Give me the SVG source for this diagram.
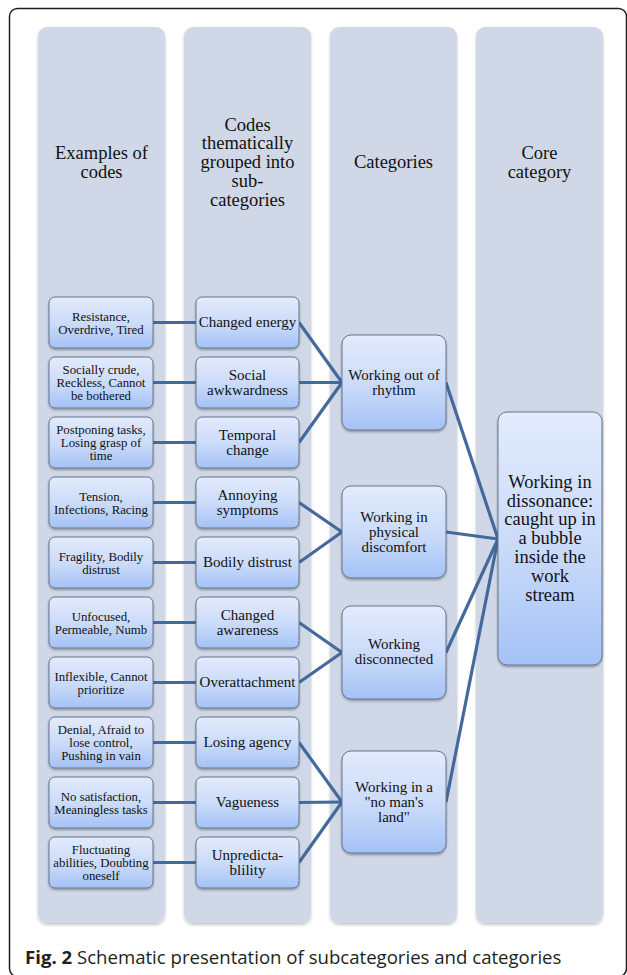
<svg xmlns="http://www.w3.org/2000/svg" width="627" height="975" viewBox="0 0 627 975">
  <defs>
    <linearGradient id="boxFill" x1="0" y1="0" x2="0" y2="1">
      <stop offset="0" stop-color="#e3ebfc"/>
      <stop offset="0.55" stop-color="#c9daf9"/>
      <stop offset="1" stop-color="#a4c2f6"/>
    </linearGradient>
    <filter id="boxShadow" x="-10%" y="-10%" width="120%" height="130%">
      <feDropShadow dx="0" dy="1.5" stdDeviation="1" flood-color="#000" flood-opacity="0.35"/>
    </filter>
    <filter id="colShadow" x="-10%" y="-5%" width="120%" height="110%">
      <feDropShadow dx="0" dy="2" stdDeviation="1.5" flood-color="#000" flood-opacity="0.22"/>
    </filter>
    <style>
      .frame { fill: #ffffff; stroke: #1e1e1e; stroke-width: 1.5; }
      .col { fill: #d0d8e7; filter: url(#colShadow); }
      .box { fill: url(#boxFill); stroke: #66768e; stroke-width: 1; filter: url(#boxShadow); }
      .link { stroke: #44699c; stroke-width: 3.2; fill: none; stroke-linecap: butt; }
      text { font-family: "Liberation Serif", "Times New Roman", serif; fill: #111; text-anchor: middle; }
      .hdr { font-size: 18.5px; }
      .c1 { font-size: 12.8px; }
      .c2 { font-size: 15px; }
      .c3 { font-size: 15px; }
      .core { font-size: 18.5px; }
      .cap { font-family: "Open Sans", "Noto Sans", sans-serif; font-size: 18.6px; fill: #231f20; text-anchor: start; }
      .capb { font-weight: bold; }
    </style>
  </defs>

  <!-- page frame -->
  <rect class="frame" x="9.5" y="8.5" width="617" height="968" rx="8"/>

  <!-- column backgrounds with headers -->
  <g id="column-codes">
    <rect class="col" x="38" y="27" width="127" height="896" rx="9"/>
    <text class="hdr" x="101.5"><tspan x="101.5" y="158.5">Examples of</tspan><tspan x="101.5" y="177.5">codes</tspan></text>
  </g>
  <g id="column-subcategories">
    <rect class="col" x="184" y="27" width="127" height="896" rx="9"/>
    <text class="hdr" x="247.5"><tspan x="247.5" y="130.5">Codes</tspan><tspan x="247.5" y="149">thematically</tspan><tspan x="247.5" y="167.5">grouped into</tspan><tspan x="247.5" y="186.5">sub-</tspan><tspan x="247.5" y="205.5">categories</tspan></text>
  </g>
  <g id="column-categories">
    <rect class="col" x="330" y="27" width="127" height="896" rx="9"/>
    <text class="hdr" x="393.5" y="167.5">Categories</text>
  </g>
  <g id="column-core">
    <rect class="col" x="476" y="27" width="127" height="896" rx="9"/>
    <text class="hdr" x="539.5"><tspan x="539.5" y="158.5">Core</tspan><tspan x="539.5" y="177.5">category</tspan></text>
  </g>

  <!-- connectors -->
  <g id="connectors">
    <!-- codes to subcategories -->
    <line class="link" x1="153" y1="322.5" x2="196" y2="322.5"/>
    <line class="link" x1="153" y1="382.5" x2="196" y2="382.5"/>
    <line class="link" x1="153" y1="442.5" x2="196" y2="442.5"/>
    <line class="link" x1="153" y1="502.5" x2="196" y2="502.5"/>
    <line class="link" x1="153" y1="562.5" x2="196" y2="562.5"/>
    <line class="link" x1="153" y1="622.5" x2="196" y2="622.5"/>
    <line class="link" x1="153" y1="682.5" x2="196" y2="682.5"/>
    <line class="link" x1="153" y1="742.5" x2="196" y2="742.5"/>
    <line class="link" x1="153" y1="802.5" x2="196" y2="802.5"/>
    <line class="link" x1="153" y1="862.5" x2="196" y2="862.5"/>
    <!-- subcategories to categories -->
    <line class="link" x1="299" y1="322.5" x2="342" y2="382.5"/>
    <line class="link" x1="299" y1="382.5" x2="342" y2="382.5"/>
    <line class="link" x1="299" y1="442.5" x2="342" y2="382.5"/>
    <line class="link" x1="299" y1="502.5" x2="342" y2="532"/>
    <line class="link" x1="299" y1="562.5" x2="342" y2="532"/>
    <line class="link" x1="299" y1="622.5" x2="342" y2="652.5"/>
    <line class="link" x1="299" y1="682.5" x2="342" y2="652.5"/>
    <line class="link" x1="299" y1="742.5" x2="342" y2="802"/>
    <line class="link" x1="299" y1="802.5" x2="342" y2="802"/>
    <line class="link" x1="299" y1="862.5" x2="342" y2="802"/>
    <!-- categories to core category -->
    <line class="link" x1="446" y1="382.5" x2="498" y2="539"/>
    <line class="link" x1="446" y1="532" x2="498" y2="539"/>
    <line class="link" x1="446" y1="652.5" x2="498" y2="539"/>
    <line class="link" x1="446" y1="802" x2="498" y2="539"/>
  </g>

  <!-- example codes -->
  <g id="code-1"><rect class="box" x="49" y="297" width="104" height="51" rx="6"/>
    <text class="c1"><tspan x="101" y="320.5">Resistance,</tspan><tspan x="101" y="333.5">Overdrive, Tired</tspan></text></g>
  <g id="code-2"><rect class="box" x="49" y="357" width="104" height="51" rx="6"/>
    <text class="c1"><tspan x="101" y="374">Socially crude,</tspan><tspan x="101" y="387">Reckless, Cannot</tspan><tspan x="101" y="400">be bothered</tspan></text></g>
  <g id="code-3"><rect class="box" x="49" y="417" width="104" height="51" rx="6"/>
    <text class="c1"><tspan x="101" y="434">Postponing tasks,</tspan><tspan x="101" y="447">Losing grasp of</tspan><tspan x="101" y="460">time</tspan></text></g>
  <g id="code-4"><rect class="box" x="49" y="477" width="104" height="51" rx="6"/>
    <text class="c1"><tspan x="101" y="500.5">Tension,</tspan><tspan x="101" y="513.5">Infections, Racing</tspan></text></g>
  <g id="code-5"><rect class="box" x="49" y="537" width="104" height="51" rx="6"/>
    <text class="c1"><tspan x="101" y="560.5">Fragility, Bodily</tspan><tspan x="101" y="573.5">distrust</tspan></text></g>
  <g id="code-6"><rect class="box" x="49" y="597" width="104" height="51" rx="6"/>
    <text class="c1"><tspan x="101" y="620.5">Unfocused,</tspan><tspan x="101" y="633.5">Permeable, Numb</tspan></text></g>
  <g id="code-7"><rect class="box" x="49" y="657" width="104" height="51" rx="6"/>
    <text class="c1"><tspan x="101" y="680.5">Inflexible, Cannot</tspan><tspan x="101" y="693.5">prioritize</tspan></text></g>
  <g id="code-8"><rect class="box" x="49" y="717" width="104" height="51" rx="6"/>
    <text class="c1"><tspan x="101" y="734">Denial, Afraid to</tspan><tspan x="101" y="747">lose control,</tspan><tspan x="101" y="760">Pushing in vain</tspan></text></g>
  <g id="code-9"><rect class="box" x="49" y="777" width="104" height="51" rx="6"/>
    <text class="c1"><tspan x="101" y="800.5">No satisfaction,</tspan><tspan x="101" y="813.5">Meaningless tasks</tspan></text></g>
  <g id="code-10"><rect class="box" x="49" y="837" width="104" height="51" rx="6"/>
    <text class="c1"><tspan x="101" y="854">Fluctuating</tspan><tspan x="101" y="867">abilities, Doubting</tspan><tspan x="101" y="880">oneself</tspan></text></g>

  <!-- subcategories -->
  <g id="sub-1"><rect class="box" x="196" y="297" width="103" height="51" rx="6"/>
    <text class="c2" x="247.5" y="327">Changed energy</text></g>
  <g id="sub-2"><rect class="box" x="196" y="357" width="103" height="51" rx="6"/>
    <text class="c2"><tspan x="247.5" y="379.5">Social</tspan><tspan x="247.5" y="394.5">awkwardness</tspan></text></g>
  <g id="sub-3"><rect class="box" x="196" y="417" width="103" height="51" rx="6"/>
    <text class="c2"><tspan x="247.5" y="439.5">Temporal</tspan><tspan x="247.5" y="454.5">change</tspan></text></g>
  <g id="sub-4"><rect class="box" x="196" y="477" width="103" height="51" rx="6"/>
    <text class="c2"><tspan x="247.5" y="499.5">Annoying</tspan><tspan x="247.5" y="514.5">symptoms</tspan></text></g>
  <g id="sub-5"><rect class="box" x="196" y="537" width="103" height="51" rx="6"/>
    <text class="c2" x="247.5" y="567">Bodily distrust</text></g>
  <g id="sub-6"><rect class="box" x="196" y="597" width="103" height="51" rx="6"/>
    <text class="c2"><tspan x="247.5" y="619.5">Changed</tspan><tspan x="247.5" y="634.5">awareness</tspan></text></g>
  <g id="sub-7"><rect class="box" x="196" y="657" width="103" height="51" rx="6"/>
    <text class="c2" x="247.5" y="687">Overattachment</text></g>
  <g id="sub-8"><rect class="box" x="196" y="717" width="103" height="51" rx="6"/>
    <text class="c2" x="247.5" y="747">Losing agency</text></g>
  <g id="sub-9"><rect class="box" x="196" y="777" width="103" height="51" rx="6"/>
    <text class="c2" x="247.5" y="807">Vagueness</text></g>
  <g id="sub-10"><rect class="box" x="196" y="837" width="103" height="51" rx="6"/>
    <text class="c2"><tspan x="247.5" y="859.5">Unpredicta-</tspan><tspan x="247.5" y="874.5">blility</tspan></text></g>

  <!-- categories -->
  <g id="cat-1"><rect class="box" x="342" y="335" width="104" height="95" rx="9"/>
    <text class="c3"><tspan x="394" y="379.5">Working out of</tspan><tspan x="394" y="394.5">rhythm</tspan></text></g>
  <g id="cat-2"><rect class="box" x="342" y="486" width="104" height="92" rx="9"/>
    <text class="c3"><tspan x="394" y="521.5">Working in</tspan><tspan x="394" y="536.5">physical</tspan><tspan x="394" y="551.5">discomfort</tspan></text></g>
  <g id="cat-3"><rect class="box" x="342" y="606" width="104" height="93" rx="9"/>
    <text class="c3"><tspan x="394" y="648.5">Working</tspan><tspan x="394" y="663.5">disconnected</tspan></text></g>
  <g id="cat-4"><rect class="box" x="342" y="751" width="104" height="102" rx="9"/>
    <text class="c3"><tspan x="394" y="791.5">Working in a</tspan><tspan x="394" y="806.5">"no man's</tspan><tspan x="394" y="821.5">land"</tspan></text></g>

  <!-- core category -->
  <g id="core"><rect class="box" x="498" y="412" width="104" height="253" rx="9"/>
    <text class="core"><tspan x="550" y="487.5">Working in</tspan><tspan x="550" y="506.5">dissonance:</tspan><tspan x="550" y="525">caught up in</tspan><tspan x="550" y="543.5">a bubble</tspan><tspan x="550" y="562.5">inside the</tspan><tspan x="550" y="581.5">work</tspan><tspan x="550" y="600.5">stream</tspan></text></g>

  <!-- caption -->
  <text class="cap" x="25" y="964"><tspan class="capb">Fig. 2</tspan> Schematic presentation of subcategories and categories</text>
</svg>
